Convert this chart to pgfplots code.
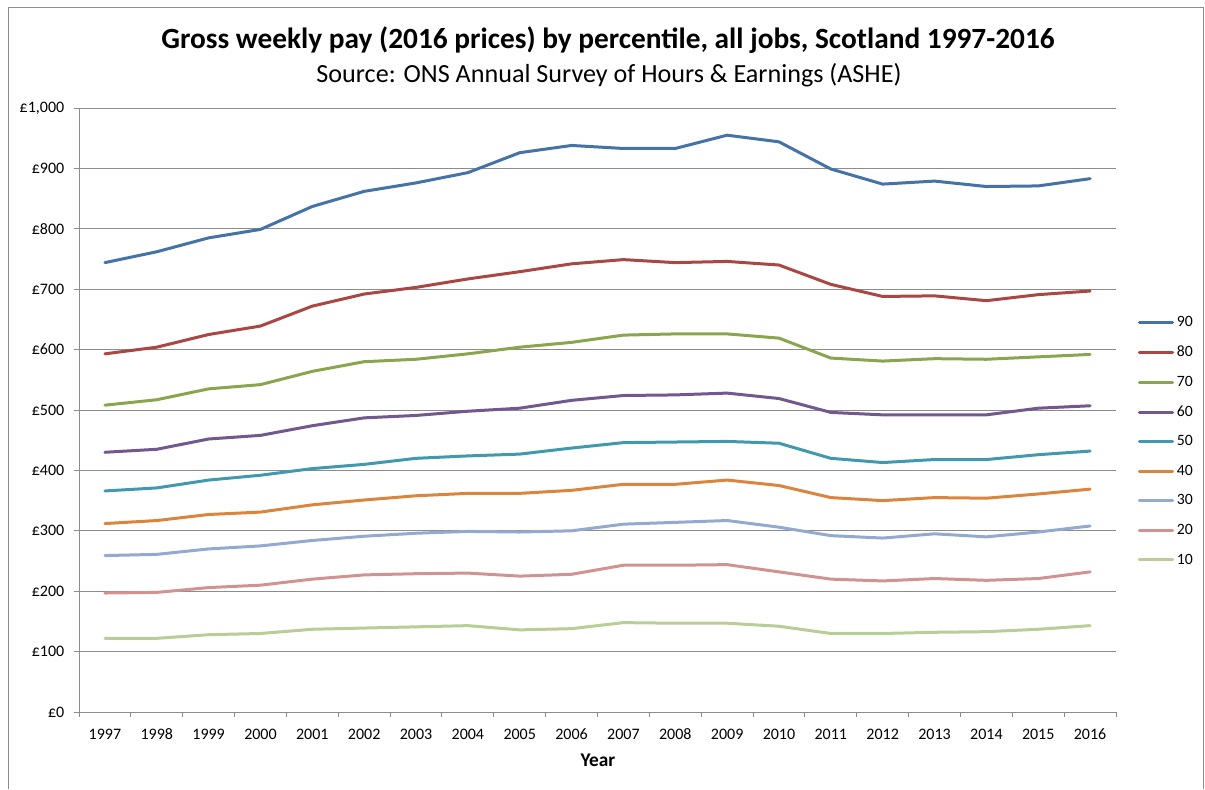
\documentclass[border=0pt]{standalone}
\usepackage{pgfplots}
\pgfplotsset{compat=1.18}
\usepackage{fontspec}
\setmainfont{Carlito}
\definecolor{c90}{HTML}{4572A7}
\definecolor{c80}{HTML}{AA4643}
\definecolor{c70}{HTML}{89A54E}
\definecolor{c60}{HTML}{71588F}
\definecolor{c50}{HTML}{4198AF}
\definecolor{c40}{HTML}{DB843D}
\definecolor{c30}{HTML}{93A9CF}
\definecolor{c20}{HTML}{D19392}
\definecolor{c10}{HTML}{B9CD96}
\definecolor{gridc}{HTML}{8C8C8C}
\begin{document}
\begin{tikzpicture}
\path[use as bounding box] (0pt,0pt) rectangle (903.75pt,-591.75pt);
\draw[gridc,line width=0.75pt] (6pt,-591.75pt) -- (6pt,-5.25pt) -- (902.25pt,-5.25pt) -- (902.25pt,-591.75pt);
\node[font=\fontsize{22}{26}\selectfont\bfseries] at (456pt,-30pt) {Gross weekly pay (2016 prices) by percentile, all jobs, Scotland 1997-2016};
\node[font=\fontsize{19.6}{23}\selectfont] at (456.75pt,-56.25pt) {Source: ONS Annual Survey of Hours \& Earnings (ASHE)};
\node[font=\fontsize{14.5}{17}\selectfont\bfseries] at (448.5pt,-570pt) {Year};
\begin{axis}[
  at={(59.25pt,-534pt)}, anchor=south west,
  scale only axis, width=777.75pt, height=453pt,
  xmin=-0.5, xmax=19.5, ymin=0, ymax=1000,
  axis x line=bottom, axis y line=left,
  axis line style={-, gridc, line width=0.75pt},
  xtick={0,...,19},
  xticklabels={1997,1998,1999,2000,2001,2002,2003,2004,2005,2006,2007,2008,2009,2010,2011,2012,2013,2014,2015,2016},
  minor xtick={-0.5,0.5,...,19.5},
  major x tick style={draw=none},
  minor x tick style={gridc, line width=0.75pt},
  minor tick length=3.5pt,
  ytick={0,100,...,1000},
  ymajorgrids, grid style={gridc, line width=0.75pt},
  major y tick style={gridc, line width=0.75pt},
  major tick length=4pt,
  tick align=outside,
  tick label style={font=\fontsize{12}{14}\selectfont},
  /pgf/number format/assume math mode=true,
  /pgf/number format/1000 sep={,},
  yticklabel={£\pgfmathprintnumber{\tick}},
  yticklabel style={xshift=-3.5pt},
  xticklabel style={anchor=base, yshift=-16.5pt},
  legend style={at={(1.017,0.664)}, anchor=north west, draw=none, fill=none,
    font=\fontsize{11.8}{14}\selectfont, row sep=9pt},
  legend cell align=left,
  legend image code/.code={\draw[#1,line width=2.25pt] (0pt,0pt) -- (25pt,0pt);},
  every axis plot/.append style={line width=2.25pt, line join=round, line cap=round, mark=none},
  clip=false,
]
\addplot[c90] coordinates {(0,744)(1,762)(2,785)(3,799)(4,837)(5,862)(6,876)(7,893)(8,926)(9,938)(10,933)(11,933)(12,955)(13,944)(14,899)(15,874)(16,879)(17,870)(18,871)(19,883)};
\addplot[c80] coordinates {(0,593)(1,604)(2,625)(3,639)(4,672)(5,692)(6,703)(7,717)(8,729)(9,742)(10,749)(11,744)(12,746)(13,740)(14,708)(15,688)(16,689)(17,681)(18,691)(19,697)};
\addplot[c70] coordinates {(0,508)(1,517)(2,535)(3,542)(4,564)(5,580)(6,584)(7,593)(8,604)(9,612)(10,624)(11,626)(12,626)(13,619)(14,586)(15,581)(16,585)(17,584)(18,588)(19,592)};
\addplot[c60] coordinates {(0,430)(1,435)(2,452)(3,458)(4,474)(5,487)(6,491)(7,498)(8,503)(9,516)(10,524)(11,525)(12,528)(13,519)(14,496)(15,492)(16,492)(17,492)(18,503)(19,507)};
\addplot[c50] coordinates {(0,366)(1,371)(2,384)(3,392)(4,403)(5,410)(6,420)(7,424)(8,427)(9,437)(10,446)(11,447)(12,448)(13,445)(14,420)(15,413)(16,418)(17,418)(18,426)(19,432)};
\addplot[c40] coordinates {(0,312)(1,317)(2,327)(3,331)(4,343)(5,351)(6,358)(7,362)(8,362)(9,367)(10,377)(11,377)(12,384)(13,375)(14,355)(15,350)(16,355)(17,354)(18,361)(19,369)};
\addplot[c30] coordinates {(0,259)(1,261)(2,270)(3,275)(4,284)(5,291)(6,296)(7,299)(8,298)(9,300)(10,311)(11,314)(12,317)(13,306)(14,292)(15,288)(16,295)(17,290)(18,298)(19,308)};
\addplot[c20] coordinates {(0,197)(1,198)(2,206)(3,210)(4,220)(5,227)(6,229)(7,230)(8,225)(9,228)(10,243)(11,243)(12,244)(13,232)(14,220)(15,217)(16,221)(17,218)(18,221)(19,232)};
\addplot[c10] coordinates {(0,122)(1,122)(2,128)(3,130)(4,137)(5,139)(6,141)(7,143)(8,136)(9,138)(10,148)(11,147)(12,147)(13,142)(14,130)(15,130)(16,132)(17,133)(18,137)(19,143)};
\legend{90,80,70,60,50,40,30,20,10}
\end{axis}
\end{tikzpicture}
\end{document}
